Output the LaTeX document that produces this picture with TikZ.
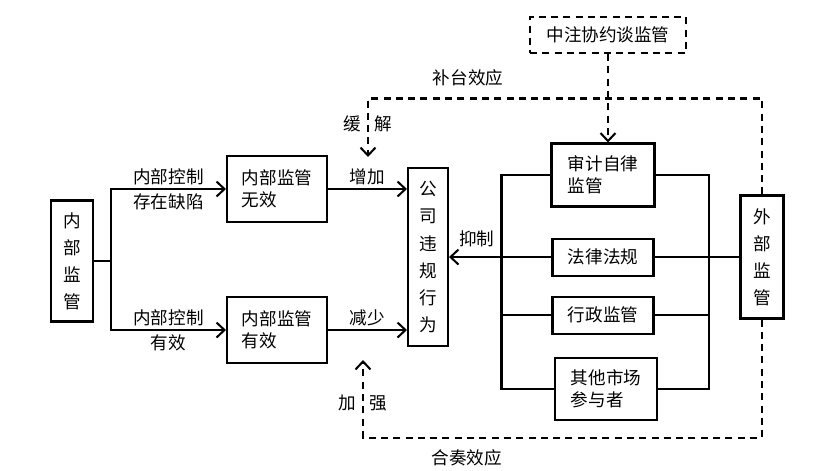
\documentclass[tikz,border=0pt]{standalone}
\usepackage{fontspec}
\usepackage{tikz}
\usetikzlibrary{positioning}
\usetikzlibrary{arrows.meta}
\newfontfamily\cjk{Noto Sans CJK SC}
\tikzset{
    every node/.append style={
        font=\cjk\fontsize{10}{12.5}\selectfont
    },
    box/.style={
        draw,
        line width=1.15pt,
        align=left,
        inner sep=0pt
    },
    vbox/.style={
        box,
        align=center,
        font=\cjk\fontsize{10}{15.4}\selectfont
    },
    dashbox/.style={
        box,
        dash pattern=on 4pt off 3pt
    },
    lbl/.style={
        inner sep=2pt
    },
    link/.style={
        draw,
        line width=1.15pt
    },
    arrow/.style={
        link,
        -{Straight Barb[length=1.6mm,width=3mm]}
    },
    effect/.style={
        link,
        dash pattern=on 4pt off 3pt,
        -{Straight Barb[length=1.6mm,width=3mm]}
    }
}

\begin{document}
\begin{tikzpicture}
                    \useasboundingbox (0,0) rectangle (16.5,-9.4);

                    \node[vbox, minimum width=0.84cm, minimum height=2.42cm] (neibu) at (1.44,-5.22) {内\\部\\监\\管};
                    \node[box, minimum width=2cm, minimum height=1.32cm] (wuxiao) at (5.54,-3.78) {内部监管\\无效};
                    \node[box, minimum width=2cm, minimum height=1.32cm, below=1.46cm of wuxiao] (youxiao) {内部监管\\有效};
                    \node[vbox, minimum width=0.8cm, minimum height=3.56cm] (gongsi) at (8.56,-5.14) {公\\司\\违\\规\\行\\为};
                    \node[dashbox, minimum width=3.12cm, minimum height=0.72cm] (zhongzhu) at (12.16,-0.7) {中注协约谈监管};
                    \node[box, minimum width=2.06cm, minimum height=1.26cm] (shenji) at (12.06,-3.5) {审计自律\\监管};
                    \node[box, minimum width=2.02cm, minimum height=0.74cm, below=0.6cm of shenji] (falv) {法律法规};
                    \node[box, minimum width=2.02cm, minimum height=0.74cm, below=0.38cm of falv] (xingzheng) {行政监管};
                    \node[box, minimum width=2.04cm, minimum height=1.24cm, below=0.44cm of xingzheng, xshift=0.06cm] (qita) {其他市场\\参与者};
                    \node[vbox, minimum width=0.86cm, minimum height=2.46cm] (waibu) at (15.24,-5.14) {外\\部\\监\\管};

                    \coordinate (huanjie) at (7.36,-3.14);
                    \coordinate (jiaqiang) at (7.26,-7.2);

                    \draw[arrow] (neibu.east) -- ++(0.34,0) |- (wuxiao.west)
                        node[lbl, pos=0.75, above] {内部控制}
                        node[lbl, pos=0.75, below] {存在缺陷};
                    \draw[arrow] (neibu.east) -- ++(0.34,0) |- (youxiao.west)
                        node[lbl, pos=0.75, above] {内部控制}
                        node[lbl, pos=0.75, below] {有效};
                    \draw (wuxiao.east) edge[arrow] node[lbl, above] {增加} (wuxiao.east -| gongsi.west);
                    \draw (youxiao.east) edge[arrow] node[lbl, above] {减少} (youxiao.east -| gongsi.west);
                    \draw (falv.west) edge[arrow] node[lbl, pos=0.73, above=3pt] {抑制} (falv.west -| gongsi.east);

                    \draw[link] (shenji.west) -- ++(-0.98,0) |- (qita.west);
                    \draw[link] (xingzheng.west) -- ++(-1.02,0);
                    \draw[link] (shenji.east) -- ++(1.06,0) |- (qita.east);
                    \draw[link] (xingzheng.east) -- ++(1.06,0);
                    \draw[link] (falv.east) -- (falv.east -| waibu.west);

                    \draw[effect] (zhongzhu) -- (zhongzhu |- shenji.north);
                    \draw[effect] (waibu.north) -- ++(0,1.92) -| (huanjie)
                        node[pos=0.373, above=3pt] {补台效应}
                        node[pos=0.72, left] {缓}
                        node[pos=0.72, right] {解};
                    \draw[effect] (waibu.south) -- ++(0,-2.36) -| (jiaqiang)
                        node[pos=0.37, below=3pt] {合奏效应}
                        node[pos=0.72, left] {加}
                        node[pos=0.72, right] {强};

                \end{tikzpicture}
\end{document}
